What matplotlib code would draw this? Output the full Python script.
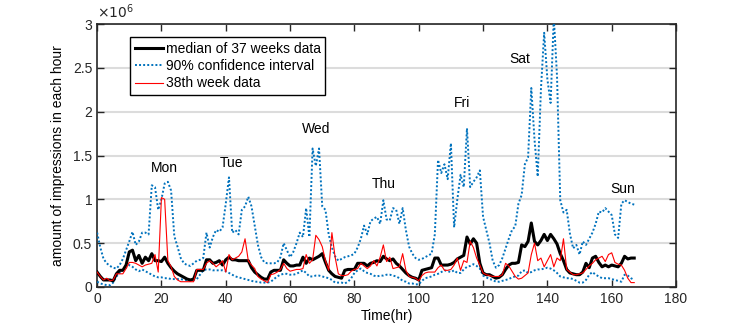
import matplotlib
matplotlib.use("Agg")
import matplotlib.pyplot as plt
import numpy as np
from matplotlib.ticker import FuncFormatter

plt.rcParams['font.family'] = ['Liberation Sans', 'DejaVu Sans']

# values in millions of impressions, one per hour (0..167)
median = [0.17, 0.12, 0.08, 0.08, 0.08, 0.07, 0.15, 0.19, 0.19, 0.25,
          0.40, 0.42, 0.30, 0.36, 0.27, 0.34, 0.30, 0.38, 0.30, 0.30,
          0.29, 0.34, 0.27, 0.22, 0.18, 0.15, 0.13, 0.11, 0.09, 0.08,
          0.09, 0.19, 0.19, 0.19, 0.31, 0.31, 0.27, 0.28, 0.30, 0.25,
          0.31, 0.34, 0.31, 0.31, 0.30, 0.30, 0.30, 0.30, 0.22, 0.17,
          0.14, 0.11, 0.09, 0.09, 0.17, 0.19, 0.19, 0.19, 0.31, 0.27,
          0.24, 0.24, 0.25, 0.25, 0.34, 0.27, 0.33, 0.31, 0.33, 0.35,
          0.38, 0.28, 0.19, 0.15, 0.12, 0.11, 0.10, 0.19, 0.20, 0.20,
          0.20, 0.27, 0.27, 0.27, 0.24, 0.27, 0.28, 0.30, 0.29, 0.35,
          0.32, 0.30, 0.32, 0.27, 0.24, 0.20, 0.16, 0.13, 0.11, 0.10,
          0.08, 0.19, 0.20, 0.21, 0.22, 0.33, 0.33, 0.25, 0.25, 0.25,
          0.26, 0.28, 0.32, 0.34, 0.36, 0.57, 0.49, 0.55, 0.50, 0.27,
          0.16, 0.14, 0.14, 0.12, 0.10, 0.11, 0.14, 0.20, 0.25, 0.27,
          0.27, 0.28, 0.48, 0.46, 0.52, 0.73, 0.52, 0.48, 0.53, 0.60,
          0.53, 0.60, 0.55, 0.49, 0.38, 0.30, 0.20, 0.16, 0.15, 0.14,
          0.14, 0.17, 0.27, 0.22, 0.33, 0.35, 0.28, 0.23, 0.25, 0.23,
          0.25, 0.24, 0.23, 0.27, 0.35, 0.32, 0.33, 0.33]

upper = [0.62, 0.45, 0.32, 0.27, 0.24, 0.22, 0.21, 0.25, 0.32, 0.42,
         0.52, 0.63, 0.48, 0.52, 0.62, 0.62, 0.60, 1.16, 1.14, 0.88,
         1.00, 1.18, 1.20, 1.10, 0.58, 0.46, 0.33, 0.27, 0.25, 0.24,
         0.27, 0.30, 0.31, 0.33, 0.62, 0.45, 0.57, 0.65, 0.63, 0.68,
         0.95, 1.25, 0.62, 0.65, 0.60, 0.88, 0.92, 1.03, 0.92, 0.70,
         0.48, 0.34, 0.28, 0.27, 0.27, 0.27, 0.28, 0.34, 0.50, 0.42,
         0.34, 0.40, 0.50, 0.62, 0.57, 0.90, 0.57, 1.58, 1.38, 1.58,
         0.92, 0.88, 0.60, 0.45, 0.35, 0.30, 0.32, 0.34, 0.35, 0.36,
         0.38, 0.45, 0.55, 0.70, 0.60, 0.75, 0.78, 0.80, 0.72, 0.99,
         0.77, 0.76, 0.90, 0.88, 0.72, 0.90, 0.65, 0.46, 0.38, 0.33,
         0.31, 0.32, 0.34, 0.36, 0.38, 0.60, 1.45, 1.30, 1.40, 1.23,
         1.64, 0.68, 1.00, 1.28, 1.14, 1.81, 1.14, 1.20, 1.25, 1.33,
         0.80, 0.65, 0.50, 0.30, 0.22, 0.25, 0.33, 0.44, 0.55, 0.65,
         0.69, 0.95, 1.05, 1.40, 1.48, 2.27, 1.68, 1.26, 2.26, 2.90,
         2.37, 2.10, 3.08, 2.40, 0.99, 0.85, 0.88, 0.61, 0.44, 0.48,
         0.37, 0.52, 0.48, 0.55, 0.62, 0.72, 0.86, 0.85, 0.90, 0.86,
         0.82, 0.60, 0.56, 0.95, 0.99, 0.97, 0.95, 0.94]

lower = [0.06, 0.04, 0.03, 0.02, 0.02, 0.05, 0.12, 0.16, 0.19, 0.22,
         0.25, 0.23, 0.20, 0.18, 0.20, 0.18, 0.16, 0.14, 0.12, 0.11,
         0.11, 0.10, 0.10, 0.09, 0.09, 0.09, 0.09, 0.08, 0.08, 0.07,
         0.08, 0.09, 0.14, 0.19, 0.20, 0.20, 0.19, 0.19, 0.19, 0.19,
         0.18, 0.16, 0.14, 0.12, 0.11, 0.10, 0.09, 0.08, 0.07, 0.06,
         0.06, 0.05, 0.05, 0.05, 0.06, 0.09, 0.12, 0.14, 0.15, 0.15,
         0.14, 0.14, 0.15, 0.17, 0.19, 0.16, 0.12, 0.12, 0.13, 0.13,
         0.12, 0.11, 0.10, 0.08, 0.05, 0.05, 0.05, 0.04, 0.06, 0.10,
         0.16, 0.19, 0.21, 0.18, 0.16, 0.15, 0.13, 0.12, 0.13, 0.13,
         0.14, 0.14, 0.13, 0.12, 0.10, 0.07, 0.06, 0.04, 0.04, 0.03,
         0.03, 0.07, 0.10, 0.11, 0.12, 0.14, 0.15, 0.17, 0.19, 0.18,
         0.17, 0.19, 0.16, 0.16, 0.20, 0.23, 0.24, 0.26, 0.24, 0.21,
         0.13, 0.11, 0.09, 0.08, 0.06, 0.06, 0.07, 0.08, 0.09, 0.11,
         0.12, 0.13, 0.18, 0.19, 0.16, 0.17, 0.19, 0.20, 0.20, 0.21,
         0.22, 0.21, 0.19, 0.16, 0.12, 0.11, 0.10, 0.10, 0.09, 0.07,
         0.05, 0.05, 0.08, 0.14, 0.17, 0.14, 0.12, 0.10, 0.10, 0.10,
         0.09, 0.08, 0.07, 0.06, 0.14, 0.13, 0.10, 0.08]

week38 = [0.17, 0.12, 0.08, 0.10, 0.07, 0.08, 0.15, 0.15, 0.15, 0.21,
          0.28, 0.28, 0.27, 0.25, 0.23, 0.25, 0.26, 0.27, 0.37, 0.17,
          1.02, 1.00, 0.30, 0.23, 0.12, 0.08, 0.06, 0.06, 0.06, 0.06,
          0.06, 0.20, 0.20, 0.20, 0.27, 0.30, 0.27, 0.23, 0.26, 0.30,
          0.17, 0.37, 0.31, 0.33, 0.35, 0.40, 0.55, 0.30, 0.25, 0.21,
          0.12, 0.09, 0.07, 0.05, 0.14, 0.15, 0.17, 0.20, 0.27, 0.21,
          0.18, 0.19, 0.20, 0.20, 0.21, 0.37, 0.27, 0.31, 0.59, 0.54,
          0.46, 0.30, 0.19, 0.62, 0.34, 0.15, 0.13, 0.13, 0.14, 0.18,
          0.20, 0.21, 0.27, 0.24, 0.21, 0.24, 0.30, 0.24, 0.34, 0.48,
          0.29, 0.34, 0.21, 0.22, 0.23, 0.38, 0.19, 0.12, 0.11, 0.10,
          0.07, 0.13, 0.16, 0.17, 0.17, 0.17, 0.22, 0.25, 0.19, 0.19,
          0.20, 0.25, 0.33, 0.19, 0.30, 0.28, 0.52, 0.45, 0.33, 0.25,
          0.16, 0.14, 0.13, 0.12, 0.12, 0.12, 0.14, 0.27, 0.24, 0.18,
          0.12, 0.09, 0.10, 0.13, 0.16, 0.37, 0.50, 0.30, 0.33, 0.23,
          0.30, 0.37, 0.23, 0.33, 0.30, 0.55, 0.20, 0.17, 0.14, 0.14,
          0.15, 0.16, 0.20, 0.24, 0.27, 0.31, 0.33, 0.35, 0.29, 0.37,
          0.39, 0.28, 0.26, 0.25, 0.19, 0.10, 0.05, 0.05]

days = ["Mon", "Tue", "Wed", "Thu", "Fri", "Sat", "Sun"]
day_x = [21, 41.7, 68, 89, 113.5, 131.5, 163.5]
day_y = [1.36, 1.41, 1.80, 1.17, 2.10, 2.60, 1.12]

hours = np.arange(len(median))
scale = 1e6
dotted = (0, (1, 1.1))

fig = plt.figure(figsize=(7.47, 3.25), dpi=100)
ax = fig.add_axes([0.130, 0.117, 0.775, 0.809])

ax.plot(hours, np.array(median) * scale, color='k', lw=2.2,
        label='median of 37 weeks data', zorder=4)
ax.plot(hours, np.array(upper) * scale, color='#0072BD', ls=dotted, lw=1.4,
        label='90% confidence interval', zorder=3)
ax.plot(hours, np.array(lower) * scale, color='#0072BD', ls=dotted, lw=1.4, zorder=3)
ax.plot(hours, np.array(week38) * scale, color='#ff0000', lw=0.8,
        label='38th week data', zorder=5)

for d, x, y in zip(days, day_x, day_y):
    ax.text(x, y * scale, d, ha='center', va='center', fontsize=10)

ax.set_xlim(0, 180)
ax.set_ylim(0, 3e6)
ax.set_xticks(np.arange(0, 181, 20))
ax.set_yticks(np.arange(0, 3.01e6, 0.5e6))
ax.yaxis.set_major_formatter(FuncFormatter(lambda v, p: '%g' % (v / scale)))
ax.text(0, 1.01, r'$\times10^6$', transform=ax.transAxes, ha='left', va='bottom',
        fontsize=10, color='#262626')
ax.yaxis.grid(True, color='#dcdcdc', lw=1.5)
ax.set_axisbelow(True)
ax.tick_params(direction='in', top=True, right=True, length=5,
               width=1, labelsize=10, colors='#262626')
for s in ax.spines.values():
    s.set_linewidth(1.2)
    s.set_color('#262626')

ax.set_xlabel('Time(hr)', fontsize=10, labelpad=2)
ax.set_ylabel('amount of impressions in each hour', fontsize=10, labelpad=6)

leg = ax.legend(loc='upper left', bbox_to_anchor=(0.057, 0.952), fontsize=10,
                fancybox=False, framealpha=1, edgecolor='k', handlelength=2.0,
                borderpad=0.35, labelspacing=0.25, handletextpad=0.2,
                borderaxespad=0)
leg.get_frame().set_linewidth(1.0)

plt.savefig('out.png', dpi=100)
